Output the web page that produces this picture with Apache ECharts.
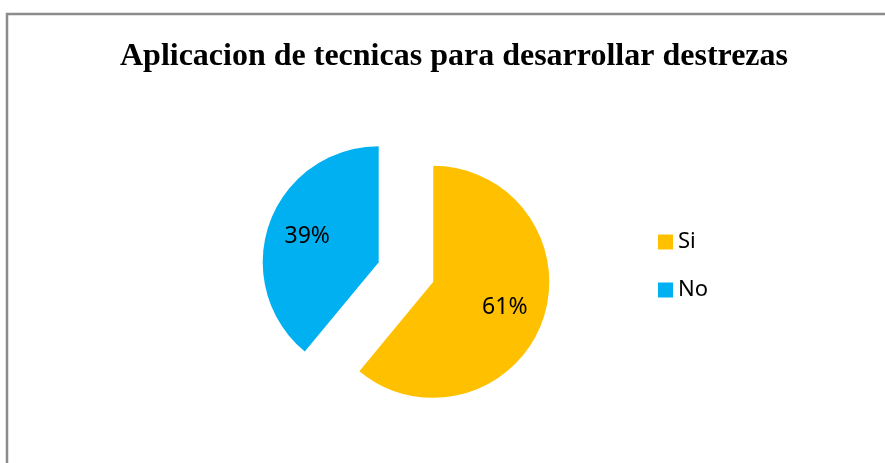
<!DOCTYPE html>
<html>
<head>
<meta charset="utf-8">
<script src="https://cdn.jsdelivr.net/npm/echarts@6/dist/echarts.min.js"></script>
<style>
  html, body { margin: 0; padding: 0; background: #fff; }
  #chart { width: 885px; height: 463px; }
</style>
</head>
<body>
<div id="chart"></div>
<script>
// Survey answers: share of respondents (%)
const categories = ['Si', 'No'];
const shares = [61, 39];
const sliceColors = ['#FFC000', '#00B0F0'];

const chart = echarts.init(document.getElementById('chart'), null, { renderer: 'canvas' });

const center = [406, 272];
const radius = 116;
const explode = 29;

const slices = categories.map((name, i) => ({
  name,
  value: shares[i],
  selected: true,
  itemStyle: { color: sliceColors[i] }
}));

// transparent copy used only to place the percentage labels further out than the midpoint
const labelSlices = categories.map((name, i) => ({
  name,
  value: shares[i],
  selected: true,
  itemStyle: { color: 'rgba(0,0,0,0)' }
}));

chart.setOption({
  animation: false,
  backgroundColor: '#ffffff',
  title: {
    text: 'Aplicacion de tecnicas para desarrollar destrezas',
    left: 449,
    textAlign: 'center',
    top: 36,
    textStyle: {
      fontFamily: '"Liberation Serif", "Times New Roman", serif',
      fontWeight: 'bold',
      fontSize: 32,
      color: '#000'
    }
  },
  legend: {
    orient: 'vertical',
    left: 658,
    top: 231,
    padding: 0,
    icon: 'rect',
    itemWidth: 15,
    itemHeight: 15,
    itemGap: 26,
    selectedMode: false,
    data: categories,
    textStyle: {
      fontFamily: '"Noto Sans", sans-serif',
      fontSize: 22,
      lineHeight: 22,
      color: '#000'
    }
  },
  graphic: [
    { type: 'line', shape: { x1: 6, y1: 14, x2: 885, y2: 14 }, style: { stroke: '#8c8c8c', lineWidth: 2.5 }, silent: true },
    { type: 'line', shape: { x1: 7, y1: 13, x2: 7, y2: 463 }, style: { stroke: '#8c8c8c', lineWidth: 2.5 }, silent: true }
  ],
  series: [
    {
      type: 'pie',
      center: center,
      radius: [0, radius],
      startAngle: 90,
      clockwise: true,
      selectedMode: 'multiple',
      selectedOffset: explode,
      silent: true,
      label: { show: false },
      labelLine: { show: false },
      emphasis: { disabled: true },
      select: { itemStyle: { borderWidth: 0 } },
      data: slices
    },
    {
      type: 'pie',
      center: center,
      radius: [30, radius],
      startAngle: 90,
      clockwise: true,
      selectedMode: 'multiple',
      selectedOffset: explode,
      silent: true,
      legendHoverLink: false,
      emphasis: { disabled: true },
      select: { itemStyle: { borderWidth: 0 } },
      labelLine: { show: false },
      label: {
        show: true,
        position: 'inside',
        formatter: (p) => p.value + '%',
        fontFamily: '"Noto Sans", sans-serif',
        fontSize: 23,
        color: '#000'
      },
      data: labelSlices
    }
  ]
});
</script>
</body>
</html>
